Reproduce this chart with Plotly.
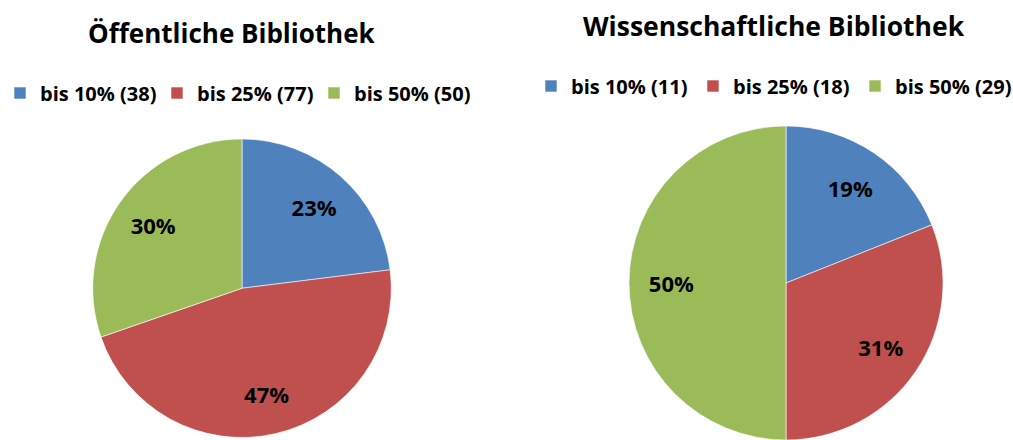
import plotly.graph_objects as go

# Data
categories = ["bis 10%", "bis 25%", "bis 50%"]
oeffentlich_counts = [38, 77, 50]
wissenschaftlich_counts = [11, 18, 29]
titles = ["Öffentliche Bibliothek", "Wissenschaftliche Bibliothek"]
colors = ["#4F81BD", "#C0504D", "#9BBB59"]

FONT = "Open Sans"
W, H = 1013, 440

def labels_for(counts):
    return [f"{c} ({n})" for c, n in zip(categories, counts)]

domains = [
    dict(x=[92.3 / W, 391.7 / W], y=[1 - 437.5 / H, 1 - 139 / H]),
    dict(x=[629 / W, 943 / W], y=[0, 1 - 126 / H]),
]
series = [oeffentlich_counts, wissenschaftlich_counts]
legend_ids = ["legend", "legend2"]

fig = go.Figure()

for counts, dom, lg in zip(series, domains, legend_ids):
    # filled pie (legend source)
    fig.add_trace(go.Pie(
        labels=labels_for(counts),
        values=counts,
        sort=False, direction="clockwise", rotation=0,
        marker=dict(colors=colors, line=dict(color="white", width=0.6)),
        textinfo="none",
        domain=dom,
        legend=lg,
        hoverinfo="label+value+percent",
    ))
    # transparent ring carrying the percentage labels
    fig.add_trace(go.Pie(
        labels=labels_for(counts),
        values=counts,
        sort=False, direction="clockwise", rotation=0, hole=0.46,
        marker=dict(colors=["rgba(0,0,0,0)"] * len(counts), line=dict(width=0)),
        textinfo="percent", texttemplate="%{percent:.0%}",
        textposition="inside", insidetextorientation="horizontal",
        textfont=dict(family=FONT, size=22, color="black", weight="bold"),
        domain=dom,
        showlegend=False,
        hoverinfo="skip",
    ))

legend_common = dict(
    orientation="h",
    font=dict(family=FONT, size=20, color="black", weight="bold"),
    entrywidthmode="pixels",
    bgcolor="rgba(0,0,0,0)",
    xanchor="left", yanchor="middle",
    traceorder="normal",
)

fig.update_layout(
    width=W, height=H,
    margin=dict(l=0, r=0, t=0, b=0, autoexpand=False),
    paper_bgcolor="white",
    plot_bgcolor="white",
    font=dict(family=FONT, color="black"),
    showlegend=True,
    legend=dict(**legend_common, entrywidth=112, x=0, y=1 - 93 / H),
    legend2=dict(**legend_common, entrywidth=117, x=531 / W, y=1 - 86 / H),
    annotations=[
        dict(text=f"<b>{titles[0]}</b>", x=232 / W, y=1 - 33 / H, xref="paper", yref="paper",
             showarrow=False, xanchor="center", yanchor="middle",
             font=dict(family=FONT, size=26, color="black")),
        dict(text=f"<b>{titles[1]}</b>", x=774 / W, y=1 - 26 / H, xref="paper", yref="paper",
             showarrow=False, xanchor="center", yanchor="middle",
             font=dict(family=FONT, size=26.5, color="black")),
    ],
)

fig.write_html(
    "out.html",
    config={"displayModeBar": False},
    post_script="document.body.style.margin='0';document.body.style.overflow='hidden';",
)
